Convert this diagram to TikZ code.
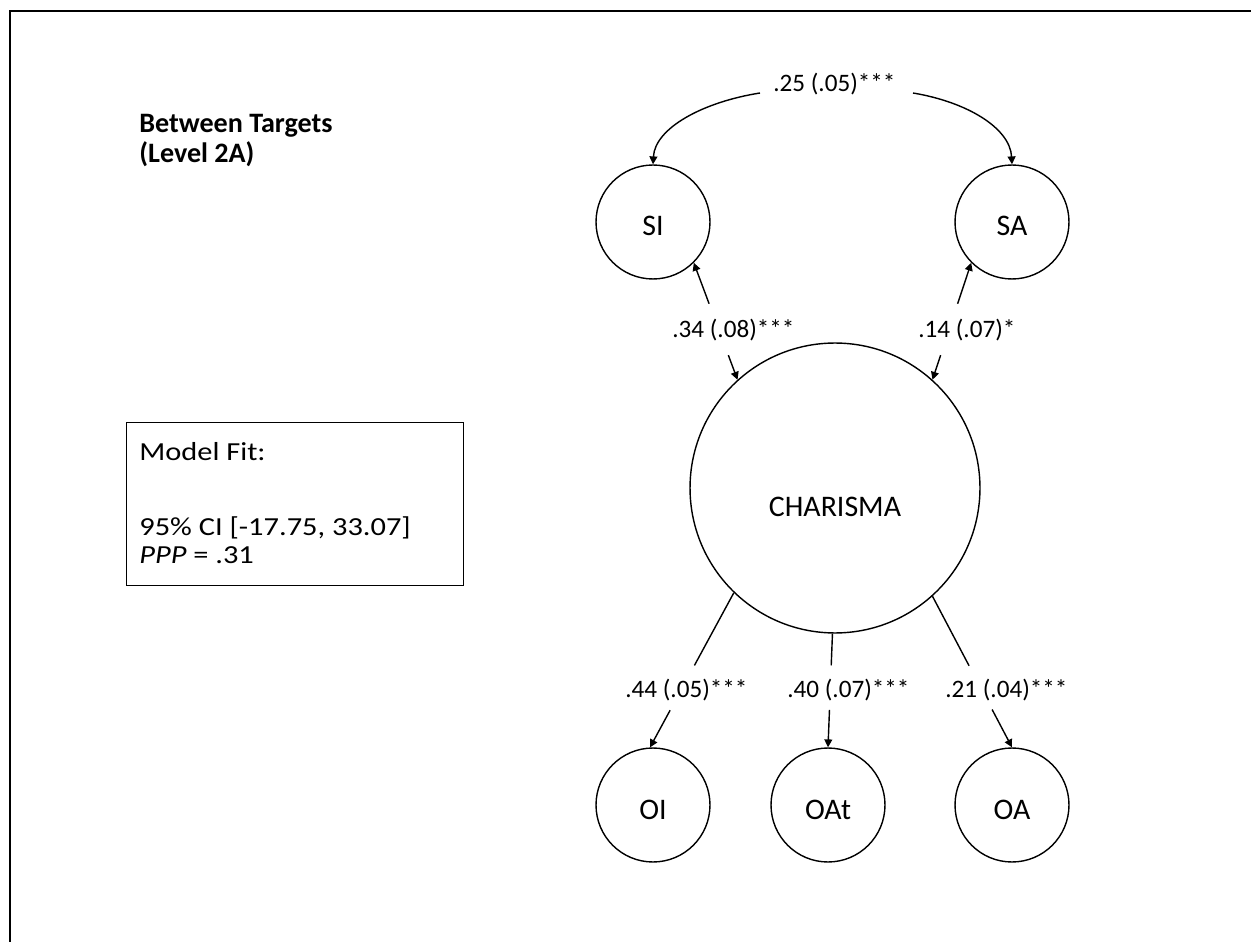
\documentclass[tikz,border=0pt]{standalone}
\usepackage{fontspec}
\setmainfont{Carlito}
\newfontfamily\boxfont{Carlito}[FakeStretch=1.17]
\usetikzlibrary{arrows.meta,calc}
\begin{document}
\begin{tikzpicture}[x=0.02cm,y=-0.02cm,
  lv/.style={circle,draw,line width=0.8pt,minimum size=2.28cm,inner sep=0pt,text height=0.56cm,text depth=0pt,font=\fontsize{17}{20}\selectfont},
  coef/.style={anchor=base west,inner sep=0pt,font=\fontsize{14.3}{17}\selectfont},
  conn/.style={line width=0.8pt},
  tipend/.style={-{Triangle[length=4.5pt,width=4.5pt]}},
  tipstart/.style={{Triangle[length=4.5pt,width=4.5pt]}-},
  head/.style={anchor=base west,inner sep=0pt,font=\fontsize{16}{19}\selectfont\bfseries},
  boxtxt/.style={anchor=base west,inner sep=0pt,font=\boxfont\fontsize{14.8}{18}\selectfont}]
\useasboundingbox (0,0) rectangle (1251,942);
% frame
\draw[line width=1.4pt] (10,942) -- (10,11) -- (1251,11);
% heading
\node[head] (h1) at (139,133) {Between Targets};
\node[head] (h2) at (139,163) {(Level 2A)};
% model fit box
\node[draw,line width=0.8pt,anchor=north west,minimum width=6.74cm,minimum height=3.26cm,inner sep=0pt] (fitbox) at (126,422) {};
\node[boxtxt] (f1) at (139,460) {Model Fit:};
\node[boxtxt] (f2) at (139,535) {95\% CI [-17.75, 33.07]};
\node[boxtxt] (f3) at (139,563) {\textit{PPP} = .31};
% latent variables
\node[lv] (SI) at (653,222) {SI};
\node[lv] (SA) at (1012,222) {SA};
\node[lv,minimum size=5.8cm,text height=1.16cm,text depth=0pt] (CH) at (835,488) {CHARISMA};
\node[lv] (OI) at (653,805) {OI};
\node[lv] (OAt) at (828,805) {OAt};
\node[lv] (OA) at (1012,805) {OA};
% coefficient labels
\node[coef] (c25) at (773,92) {.25 (.05)***};
\node[coef] (c34) at (672,338) {.34 (.08)***};
\node[coef] (c14) at (918,338) {.14 (.07)*};
\node[coef] (c44) at (625,697) {.44 (.05)***};
\node[coef] (c40) at (787,697) {.40 (.07)***};
\node[coef] (c21) at (945,697) {.21 (.04)***};
% covariance SI - SA
\coordinate (cl) at (760,93);
\coordinate (cr) at (913,93);
\draw[conn,tipend] (cl) .. controls (703,102) and (655,128) .. (SI.north);
\draw[conn,tipend] (cr) .. controls (967,102) and (1010,128) .. (SA.north);
% SI - CHARISMA
\coordinate (a1) at ($(SI.-45)!0.35!(CH.132)$);
\coordinate (a2) at ($(SI.-45)!0.79!(CH.132)$);
\draw[conn,tipstart] (SI.-45) -- (a1);
\draw[conn,tipend] (a2) -- (CH.132);
% SA - CHARISMA
\coordinate (b1) at ($(SA.-135)!0.35!(CH.48)$);
\coordinate (b2) at ($(SA.-135)!0.79!(CH.48)$);
\draw[conn,tipstart] (SA.-135) -- (b1);
\draw[conn,tipend] (b2) -- (CH.48);
% CHARISMA - OI
\coordinate (d1) at ($(CH.-134)!0.47!(OI.93)$);
\coordinate (d2) at ($(CH.-134)!0.76!(OI.93)$);
\draw[conn] (CH.-134) -- (d1);
\draw[conn,tipend] (d2) -- (OI.93);
% CHARISMA - OAt
\coordinate (e1) at ($(CH.-91)!0.28!(OAt.north)$);
\coordinate (e2) at ($(CH.-91)!0.67!(OAt.north)$);
\draw[conn] (CH.-91) -- (e1);
\draw[conn,tipend] (e2) -- (OAt.north);
% CHARISMA - OA
\coordinate (g1) at ($(CH.-48)!0.46!(OA.north)$);
\coordinate (g2) at ($(CH.-48)!0.75!(OA.north)$);
\draw[conn] (CH.-48) -- (g1);
\draw[conn,tipend] (g2) -- (OA.north);
\end{tikzpicture}
\end{document}
